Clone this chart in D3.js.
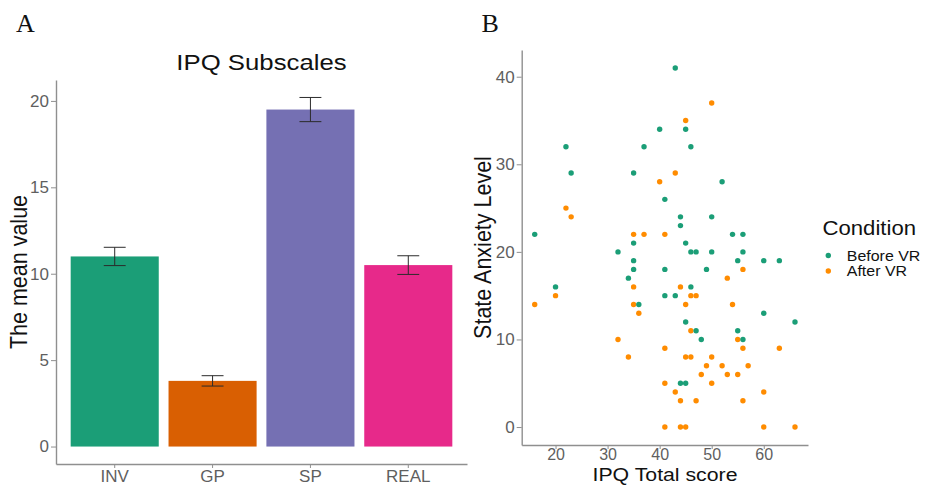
<!DOCTYPE html>
<html>
<head>
<meta charset="utf-8">
<title></title>
<script src="https://d3js.org/d3.v7.min.js"></script>
<style>
  body { margin: 0; background: #fff; }
  text { font-family: "Liberation Sans", Arial, sans-serif; }
</style>
</head>
<body>
<script>
var width = 928,
    height = 485;

// panel A: IPQ subscales
var subscales = ["INV", "GP", "SP", "REAL"];
var meanValues = [11.0, 3.8, 19.5, 10.5];
var stdErrors = [0.53, 0.3, 0.7, 0.54];
var barColors = ["#1b9e77", "#d95f02", "#7570b3", "#e7298a"];
var yTicksA = [0, 5, 10, 15, 20];

// panel B: IPQ total vs state anxiety
var beforeScore = [22, 23, 16, 40, 37, 35, 35, 32, 35, 35, 34, 20, 36, 43, 45, 46, 52, 41, 44, 50, 44, 54, 56, 45, 46,
                   47, 50, 56, 55, 60, 63, 41, 49, 46, 41, 43, 60, 45, 66, 47, 55, 48, 56, 44, 45];
var beforeAnxiety = [32, 29, 22, 34, 32, 29, 21, 20, 19, 18, 17, 16, 14, 41, 34, 32, 28, 26, 24, 24, 23, 22, 22, 21, 20,
                     20, 20, 20, 19, 19, 19, 18, 18, 16, 15, 15, 13, 12, 12, 11, 11, 10, 10, 5, 5];
var afterScore = [22, 23, 40, 35, 37, 20, 35, 16, 35, 36, 32, 34, 50, 45, 43, 41, 56, 53, 44, 46, 47, 45, 54, 46, 55,
                  41, 56, 63, 45, 46, 50, 49, 52, 57, 48, 53, 55, 41, 50, 43, 60, 44, 47, 56, 41, 44, 45, 60, 66];
var afterAnxiety = [25, 24, 28, 22, 22, 15, 16, 14, 14, 13, 10, 8, 37, 35, 29, 22, 18, 17, 16, 15, 15, 14, 14, 11, 10,
                    9, 9, 9, 8, 8, 8, 7, 7, 7, 6, 6, 6, 5, 5, 4, 4, 3, 3, 3, 0, 0, 0, 0, 0];
var conditions = ["Before VR", "After VR"];
var conditionColors = ["#1b9e77", "#ff8c00"];
var xTicksB = [20, 30, 40, 50, 60];
var yTicksB = [0, 10, 20, 30, 40];

var svg = d3.select("body").append("svg").attr("width", width).attr("height", height);

// ggplot-like 5% expansion of a continuous range
function expand(ext) {
  var pad = (ext[1] - ext[0]) * 0.05;
  return [ext[0] - pad, ext[1] + pad];
}

// the picture is slightly stretched sideways, so big labels get a small x scale
function label(str, x, y, size, opts) {
  opts = opts || {};
  var t = "translate(" + x + "," + y + ") scale(" + (opts.sx || 1.12) + ",1)";
  if (opts.rotate) t += " rotate(" + opts.rotate + ")";
  return svg.append("text")
    .attr("transform", t)
    .attr("text-anchor", opts.anchor || "middle")
    .attr("fill", opts.fill || "#111")
    .style("font-size", size + "px")
    .style("font-family", opts.family || null)
    .text(str);
}

function styleAxis(g, size) {
  g.attr("font-family", null).attr("font-size", null);
  g.select(".domain").attr("stroke", "#8f8f8f").attr("stroke-width", 1.4);
  g.selectAll(".tick line").attr("stroke", "#8f8f8f");
  g.selectAll(".tick text").attr("fill", "#5f5f5f").style("font-size", (size || 17) + "px");
}

// ---------- panel A ----------
var xA = d3.scaleBand().domain(subscales).range([56, 467]).paddingInner(0.1).paddingOuter(0.15);
var topA = d3.max(meanValues.map(function(d, i) { return d + stdErrors[i]; }));
var yA = d3.scaleLinear().domain(expand([0, topA])).range([464, 80]);

svg.append("g").selectAll("rect")
  .data(subscales)
  .enter()
  .append("rect")
  .attr("x", function(d) { return xA(d); })
  .attr("width", xA.bandwidth())
  .attr("y", function(d, i) { return yA(meanValues[i]); })
  .attr("height", function(d, i) { return yA(0) - yA(meanValues[i]); })
  .attr("fill", function(d, i) { return barColors[i]; });

var eb = svg.append("g").attr("stroke", "#2b2b2b").attr("stroke-width", 1);
var capHalf = xA.step() * 0.112;
subscales.forEach(function(d, i) {
  var cx = xA(d) + xA.bandwidth() / 2,
      lo = yA(meanValues[i] - stdErrors[i]),
      hi = yA(meanValues[i] + stdErrors[i]);
  eb.append("line").attr("x1", cx).attr("x2", cx).attr("y1", lo).attr("y2", hi);
  eb.append("line").attr("x1", cx - capHalf).attr("x2", cx + capHalf).attr("y1", lo).attr("y2", lo);
  eb.append("line").attr("x1", cx - capHalf).attr("x2", cx + capHalf).attr("y1", hi).attr("y2", hi);
});

svg.append("g")
  .attr("transform", "translate(56,0)")
  .call(d3.axisLeft(yA).tickValues(yTicksA).tickSize(5).tickPadding(2).tickSizeOuter(0))
  .call(styleAxis);

svg.append("g")
  .attr("transform", "translate(0,464)")
  .call(d3.axisBottom(xA).tickSize(4).tickPadding(2).tickSizeOuter(0))
  .call(styleAxis);

label("IPQ Subscales", 261.5, 70, 23);
label("The mean value", 27, 272, 21.5, { rotate: -90 });
label("A", 16, 32, 26, { anchor: "start", family: "'Liberation Serif', 'Times New Roman', serif", sx: 1 });

// ---------- panel B ----------
var xB = d3.scaleLinear().domain(expand(d3.extent(beforeScore.concat(afterScore)))).range([521.7, 808]);
var yB = d3.scaleLinear().domain(expand(d3.extent(beforeAnxiety.concat(afterAnxiety)))).range([445, 50]);

var dots = svg.append("g");
dots.selectAll("circle.after")
  .data(afterScore)
  .enter()
  .append("circle")
  .attr("class", "after")
  .attr("cx", function(d) { return xB(d); })
  .attr("cy", function(d, i) { return yB(afterAnxiety[i]); })
  .attr("r", 2.7)
  .attr("fill", conditionColors[1]);
dots.selectAll("circle.before")
  .data(beforeScore)
  .enter()
  .append("circle")
  .attr("class", "before")
  .attr("cx", function(d) { return xB(d); })
  .attr("cy", function(d, i) { return yB(beforeAnxiety[i]); })
  .attr("r", 2.7)
  .attr("fill", conditionColors[0]);

svg.append("g")
  .attr("transform", "translate(521.7,0)")
  .call(d3.axisLeft(yB).tickValues(yTicksB).tickSize(5).tickPadding(2).tickSizeOuter(0))
  .call(styleAxis);

svg.append("g")
  .attr("transform", "translate(0,445)")
  .call(d3.axisBottom(xB).tickValues(xTicksB).tickSize(4).tickPadding(0).tickSizeOuter(0))
  .call(styleAxis, 16);

label("IPQ Total score", 665, 480.5, 18.5, { sx: 1.15 });
label("State Anxiety Level", 491, 247.5, 21.5, { rotate: -90 });
label("B", 481.5, 32, 26, { anchor: "start", family: "'Liberation Serif', 'Times New Roman', serif", sx: 1 });

// legend
label("Condition", 822.5, 235, 20.5, { anchor: "start", sx: 1.08 });
var leg = svg.append("g").selectAll("g")
  .data(conditions)
  .enter()
  .append("g")
  .attr("transform", function(d, i) { return "translate(828.3," + (255.5 + i * 15.5) + ")"; });
leg.append("circle").attr("r", 2.7).attr("fill", function(d, i) { return conditionColors[i]; });
leg.append("text")
  .attr("transform", "translate(18.5,0) scale(1.1,1)")
  .attr("dy", "0.36em")
  .attr("fill", "#111")
  .style("font-size", "14.5px")
  .text(function(d) { return d; });
</script>
</body>
</html>
